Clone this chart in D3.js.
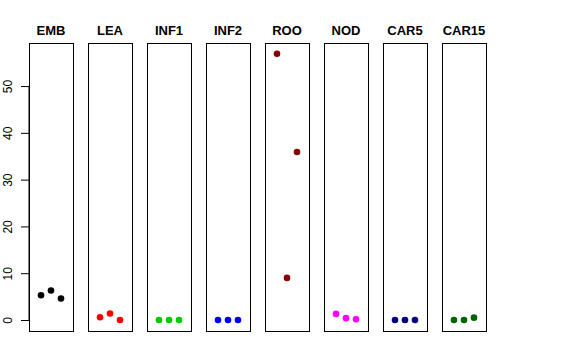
<!DOCTYPE html>
<html>
<head>
<meta charset="utf-8">
<script src="https://cdn.jsdelivr.net/npm/d3@7"></script>
<style>
  body { margin: 0; background: #fff; }
  svg { font-family: "Liberation Sans", Arial, sans-serif; }
</style>
</head>
<body>
<svg id="chart"></svg>
<script>
var categories = ["EMB", "LEA", "INF1", "INF2", "ROO", "NOD", "CAR5", "CAR15"];
var colors = ["#000000", "#FF0000", "#00CD00", "#0000FF", "#8B0000", "#FF00FF", "#000080", "#006400"];
var values = [
  [5.3, 6.3, 4.6],
  [0.6, 1.4, 0],
  [0, 0, 0],
  [0, 0, 0],
  [56.9, 9.0, 35.9],
  [1.3, 0.4, 0.15],
  [0, 0, 0],
  [0, 0, 0.5]
];
var yTicks = [0, 10, 20, 30, 40, 50];

var width = 576, height = 360;
var svg = d3.select("#chart").attr("width", width).attr("height", height);

var panelTop = 43, panelBottom = 331;

var xband = d3.scaleBand()
  .domain(categories)
  .range([29, 486])
  .paddingInner(15 / 59);

var yscale = d3.scaleLinear()
  .domain([-2.35, 59.2])
  .range([panelBottom, panelTop]);

// position of the replicates inside a panel
var xin = d3.scaleLinear()
  .domain([-0.2, 4.2])
  .range([0, xband.bandwidth()]);

// y axis on the first panel
var yaxis = d3.axisLeft(yscale).tickValues(yTicks).tickSize(8);
var ag = svg.append("g")
  .attr("transform", "translate(" + xband(categories[0]) + ",0)")
  .call(yaxis);
ag.select(".domain").remove();
ag.append("line")
  .attr("x1", 0).attr("x2", 0)
  .attr("y1", yscale(0)).attr("y2", yscale(50))
  .attr("stroke", "#000");
ag.selectAll(".tick line").attr("stroke", "#000");
ag.selectAll(".tick text")
  .attr("font-size", 12)
  .attr("fill", "#000")
  .attr("text-anchor", "middle")
  .attr("x", 0)
  .attr("y", 0)
  .attr("dy", "0")
  .attr("transform", "translate(-17,0) rotate(-90)")
  .style("font-family", "Liberation Sans, Arial, sans-serif");

categories.forEach(function(cat, i) {
  var g = svg.append("g")
    .attr("transform", "translate(" + xband(cat) + ",0)");

  g.append("rect")
    .attr("x", 0.5)
    .attr("y", panelTop + 0.5)
    .attr("width", xband.bandwidth())
    .attr("height", panelBottom - panelTop)
    .attr("fill", "none")
    .attr("stroke", "#000")
    .attr("stroke-width", 1);

  g.append("text")
    .attr("x", xband.bandwidth() / 2)
    .attr("y", 35)
    .attr("text-anchor", "middle")
    .attr("font-size", 13)
    .attr("font-weight", "bold")
    .text(cat);

  g.selectAll("circle")
    .data(values[i])
    .enter()
    .append("circle")
    .attr("cx", function(d, j) { return xin(j + 1); })
    .attr("cy", function(d) { return yscale(d); })
    .attr("r", 3.3)
    .attr("fill", colors[i]);
});
</script>
</body>
</html>
